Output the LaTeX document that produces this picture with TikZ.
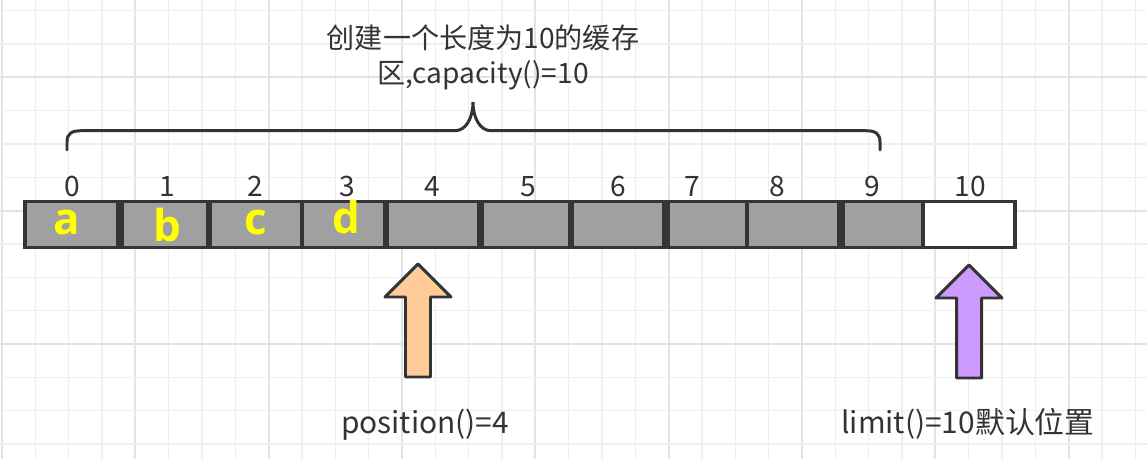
\documentclass[tikz,border=0pt]{standalone}
\usepackage{fontspec}
\setmainfont{Noto Sans CJK SC}
\newfontfamily\letterfont{Open Sans}
\usetikzlibrary{positioning}

\definecolor{gridminor}{HTML}{EEEEEE}
\definecolor{gridmajor}{HTML}{E3E3E3}
\definecolor{cellgray}{HTML}{A0A0A0}
\definecolor{celledge}{HTML}{353535}
\definecolor{textgray}{HTML}{333333}
\definecolor{letteryellow}{HTML}{FFFF00}
\definecolor{posorange}{HTML}{FFCC99}
\definecolor{limpurple}{HTML}{CC99FF}

\tikzset{
  cell/.style={draw=celledge, line width=2pt, inner sep=0pt, outer sep=0pt,
    minimum height=0.92cm},
  idxlabel/.style={text=textgray, anchor=base, inner sep=0pt,
    font=\fontsize{16}{16}\selectfont},
  letterlabel/.style={text=letteryellow, anchor=base, inner sep=0pt,
    font=\letterfont\bfseries\fontsize{25}{25}\selectfont},
  infotext/.style={text=textgray, inner sep=0pt, align=center,
    font=\fontsize{17}{19.9}\selectfont},
  bracepath/.style={draw=textgray, line width=1.7pt, line cap=round},
  blockarrow/.style={draw=textgray, line width=1.7pt, line join=round},
}

\begin{document}
\begin{tikzpicture}[x=0.02cm, y=-0.02cm]
  \useasboundingbox (0,0) rectangle (1147,459);

  % background grid, every 4th line a bit darker
  \foreach \k in {0,...,34} {
    \pgfmathsetmacro{\gx}{2+33.333*\k}
    \pgfmathtruncatemacro{\ismajor}{mod(\k,4)==0}
    \ifnum\ismajor=1
      \draw[gridmajor, line width=1.1pt] (\gx,0) -- (\gx,459);
    \else
      \draw[gridminor, line width=0.8pt] (\gx,0) -- (\gx,459);
    \fi
  }
  \foreach \k in {0,...,13} {
    \pgfmathsetmacro{\gy}{10.7+33.333*\k}
    \pgfmathtruncatemacro{\ismajor}{mod(\k,4)==2}
    \ifnum\ismajor=1
      \draw[gridmajor, line width=1.1pt] (0,\gy) -- (1147,\gy);
    \else
      \draw[gridminor, line width=0.8pt] (0,\gy) -- (1147,\gy);
    \fi
  }

  % buffer cells with their index above
  \foreach \i/\l/\r/\lx/\col in {0/25/118/72/cellgray, 1/122/208/167/cellgray,
      2/210/302/255/cellgray, 3/302/385/347/cellgray, 4/387/479/432/cellgray,
      5/482/570/528/cellgray, 6/572/664/618/cellgray, 7/668/747/692/cellgray,
      8/747/839/777/cellgray, 9/843/923/872/cellgray, 10/923/1015/970/white} {
    \node[cell, fill=\col, minimum width={(\r-\l)*0.02cm}] (c\i) at ({(\l+\r)/2},224.5) {};
    \node[idxlabel] (n\i) at (\lx,197) {\i};
  }

  % stored data
  \node[letterlabel] (la) at (67,235) {a};
  \node[letterlabel] (lb) at (167,242) {b};
  \node[letterlabel] (lc) at (256,235) {c};
  \node[letterlabel] (ld) at (346,234) {d};

  % brace over the capacity
  \coordinate (braceL) at (67,150);
  \coordinate (braceTip) at (473,102);
  \coordinate (braceR) at (880,150);
  \draw[bracepath] (braceL) -- (67,142) .. controls (67,133) and (72,130.7) .. (82,130.7)
    -- (455,130.7) .. controls (466,130.7) and (473,118) .. (braceTip)
    .. controls (473,118) and (480,130.7) .. (491,130.7)
    -- (865,130.7) .. controls (875,130.7) and (880,133) .. (880,142) -- (braceR);
  \node[infotext, font=\fontsize{16}{19.9}\selectfont] (capText) at (483,57)
    {创建一个长度为10的缓存\\区,capacity()=10};

  % position and limit markers
  \foreach \tx/\ty/\col in {418/264/posorange, 969/265/limpurple} {
    \draw[blockarrow, fill=\col] (\tx,\ty) -- ++(33,33) -- ++(-20.5,0) -- ++(0,80)
      -- ++(-25,0) -- ++(0,-80) -- ++(-20.5,0) -- cycle;
  }
  \node[infotext, anchor=base] (posText) at (425,434) {position()=4};
  \node[infotext, anchor=base] (limText) at (968,434) {limit()=10默认位置};
\end{tikzpicture}
\end{document}
